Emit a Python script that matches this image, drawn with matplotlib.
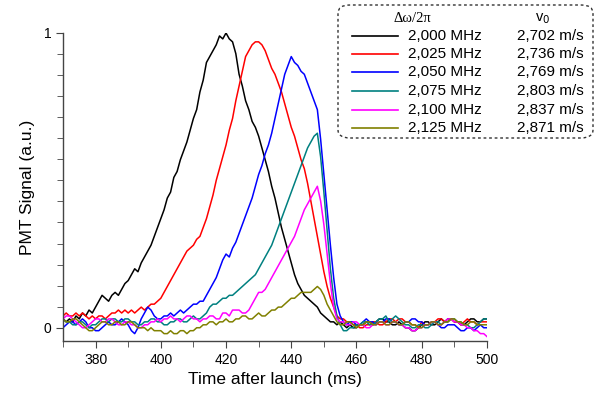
"""
PMT信号 vs 发射后时间 (不同失谐频率)
"""

import numpy as np
from matplotlib import pyplot as plt
from matplotlib.patches import FancyBboxPatch
from matplotlib.lines import Line2D

plt.rcParams["font.family"] = ["Liberation Sans", "DejaVu Sans"]

# 时间轴 (ms)，每1ms一个点
time_ms = np.arange(370, 501, 1)

freq_labels = ["2,000 MHz", "2,025 MHz", "2,050 MHz", "2,075 MHz", "2,100 MHz", "2,125 MHz"]
speed_labels = ["2,702 m/s", "2,736 m/s", "2,769 m/s", "2,803 m/s", "2,837 m/s", "2,871 m/s"]
colors = ["black", "#ff0000", "#0000ff", "#008080", "#ff00ff", "#808000"]

# 每行10个点: 370-379, 380-389, ... , 490-499, 最后一个是500
sig_2000 = [0.03, 0.02, 0.03, 0.02, 0.04, 0.03, 0.05, 0.04, 0.06, 0.05,
            0.07, 0.09, 0.11, 0.10, 0.09, 0.11, 0.12, 0.11, 0.13, 0.15,
            0.16, 0.18, 0.20, 0.19, 0.22, 0.24, 0.26, 0.28, 0.31, 0.34,
            0.37, 0.40, 0.44, 0.46, 0.51, 0.53, 0.57, 0.60, 0.63, 0.67,
            0.71, 0.74, 0.80, 0.84, 0.90, 0.92, 0.94, 0.96, 0.99, 0.98,
            1.00, 0.98, 0.97, 0.93, 0.86, 0.82, 0.77, 0.74, 0.70, 0.68,
            0.65, 0.61, 0.57, 0.53, 0.48, 0.44, 0.39, 0.34, 0.30, 0.26,
            0.22, 0.18, 0.15, 0.13, 0.11, 0.10, 0.09, 0.08, 0.07, 0.05,
            0.04, 0.03, 0.02, 0.02, 0.01, 0.02, 0.01, 0.00, 0.01, 0.00,
            0.00, 0.01, 0.01, 0.02, 0.02, 0.01, 0.02, 0.03, 0.03, 0.02,
            0.02, 0.01, 0.01, 0.02, 0.01, 0.00, 0.00, -0.01, -0.01, 0.00,
            0.01, 0.02, 0.02, 0.01, 0.01, 0.02, 0.03, 0.02, 0.03, 0.03,
            0.02, 0.02, 0.01, 0.01, 0.02, 0.03, 0.03, 0.02, 0.02, 0.03,
            0.03]
sig_2025 = [0.04, 0.05, 0.04, 0.04, 0.05, 0.04, 0.05, 0.04, 0.03, 0.04,
            0.03, 0.04, 0.04, 0.03, 0.04, 0.05, 0.05, 0.06, 0.05, 0.06,
            0.05, 0.06, 0.05, 0.06, 0.07, 0.06, 0.07, 0.08, 0.08, 0.09,
            0.10, 0.12, 0.14, 0.16, 0.18, 0.20, 0.22, 0.24, 0.26, 0.27,
            0.28, 0.30, 0.31, 0.34, 0.37, 0.41, 0.45, 0.50, 0.54, 0.58,
            0.62, 0.67, 0.71, 0.77, 0.82, 0.87, 0.92, 0.94, 0.96, 0.97,
            0.97, 0.96, 0.94, 0.91, 0.88, 0.86, 0.83, 0.80, 0.76, 0.72,
            0.68, 0.65, 0.61, 0.57, 0.54, 0.49, 0.43, 0.37, 0.31, 0.25,
            0.19, 0.14, 0.10, 0.07, 0.04, 0.03, 0.03, 0.02, 0.02, 0.01,
            0.01, 0.00, 0.00, 0.01, 0.01, 0.02, 0.02, 0.01, 0.01, 0.02,
            0.03, 0.03, 0.02, 0.03, 0.03, 0.02, 0.02, 0.01, 0.01, 0.00,
            0.02, 0.01, 0.01, 0.02, 0.02, 0.03, 0.03, 0.02, 0.02, 0.03,
            0.02, 0.02, 0.01, 0.02, 0.03, 0.02, 0.02, 0.01, 0.02, 0.02,
            0.02]
sig_2050 = [0.00, 0.01, 0.02, 0.02, 0.01, 0.02, 0.03, 0.02, 0.00, 0.00,
            -0.01, -0.01, 0.00, 0.01, 0.02, 0.01, 0.01, 0.02, 0.03, 0.02,
            0.01, -0.01, -0.02, 0.00, 0.03, 0.05, 0.07, 0.06, 0.04, 0.03,
            0.03, 0.04, 0.04, 0.05, 0.04, 0.05, 0.06, 0.05, 0.06, 0.07,
            0.08, 0.08, 0.09, 0.09, 0.11, 0.13, 0.15, 0.17, 0.20, 0.23,
            0.25, 0.24, 0.27, 0.29, 0.32, 0.35, 0.38, 0.41, 0.44, 0.48,
            0.52, 0.55, 0.59, 0.62, 0.66, 0.71, 0.76, 0.81, 0.86, 0.89,
            0.92, 0.90, 0.89, 0.87, 0.86, 0.83, 0.80, 0.77, 0.74, 0.64,
            0.52, 0.40, 0.28, 0.17, 0.08, 0.04, 0.02, 0.01, 0.02, 0.02,
            0.01, 0.01, 0.02, 0.03, 0.02, 0.02, 0.01, 0.02, 0.02, 0.03,
            0.03, 0.02, 0.02, 0.01, 0.01, 0.02, 0.02, 0.03, 0.03, 0.02,
            0.02, 0.01, 0.01, 0.02, 0.02, 0.01, 0.00, 0.00, 0.01, 0.01,
            0.01, 0.00, -0.01, -0.01, 0.00, 0.00, -0.01, 0.00, 0.01, 0.00,
            0.00]
sig_2075 = [0.03, 0.02, 0.02, 0.01, 0.01, 0.02, 0.02, 0.01, 0.00, 0.01,
            0.01, 0.02, 0.03, 0.03, 0.02, 0.03, 0.03, 0.02, 0.02, 0.03,
            0.03, 0.02, 0.02, 0.01, 0.01, 0.02, 0.02, 0.03, 0.03, 0.02,
            0.02, 0.01, 0.01, 0.02, 0.02, 0.03, 0.03, 0.02, 0.02, 0.03,
            0.04, 0.03, 0.03, 0.04, 0.05, 0.07, 0.08, 0.08, 0.09, 0.10,
            0.10, 0.11, 0.11, 0.12, 0.13, 0.14, 0.15, 0.16, 0.17, 0.18,
            0.20, 0.22, 0.24, 0.26, 0.28, 0.31, 0.34, 0.37, 0.40, 0.43,
            0.46, 0.49, 0.52, 0.55, 0.58, 0.61, 0.63, 0.65, 0.66, 0.58,
            0.46, 0.33, 0.20, 0.10, 0.04, 0.01, -0.01, -0.01, 0.00, 0.00,
            0.01, 0.01, 0.02, 0.02, 0.01, 0.01, 0.02, 0.03, 0.03, 0.04,
            0.02, 0.03, 0.04, 0.03, 0.02, 0.01, 0.01, 0.00, 0.00, 0.01,
            0.01, 0.00, 0.00, 0.01, 0.02, 0.02, 0.01, 0.02, 0.02, 0.03,
            0.03, 0.02, 0.02, 0.01, 0.01, 0.00, 0.00, 0.01, 0.02, 0.03,
            0.03]
sig_2100 = [0.03, 0.04, 0.04, 0.03, 0.02, 0.01, 0.00, 0.00, 0.01, 0.02,
            0.03, 0.03, 0.02, 0.02, 0.03, 0.03, 0.02, 0.01, 0.01, 0.02,
            0.02, 0.01, 0.01, 0.00, 0.00, 0.01, 0.01, 0.02, 0.02, 0.03,
            0.02, 0.03, 0.03, 0.04, 0.03, 0.03, 0.02, 0.03, 0.04, 0.04,
            0.03, 0.03, 0.02, 0.03, 0.03, 0.04, 0.04, 0.03, 0.03, 0.05,
            0.05, 0.04, 0.06, 0.06, 0.06, 0.05, 0.05, 0.06, 0.08, 0.10,
            0.12, 0.12, 0.13, 0.15, 0.17, 0.19, 0.21, 0.23, 0.25, 0.27,
            0.29, 0.31, 0.34, 0.37, 0.40, 0.42, 0.44, 0.46, 0.48, 0.43,
            0.35, 0.25, 0.15, 0.07, 0.03, 0.02, 0.02, 0.01, 0.01, 0.02,
            0.02, 0.01, 0.01, 0.00, 0.00, 0.01, 0.01, 0.02, 0.02, 0.01,
            0.01, 0.02, 0.02, 0.01, 0.01, 0.00, 0.00, -0.01, -0.01, 0.00,
            0.00, 0.01, 0.01, 0.02, 0.02, 0.01, 0.01, 0.02, 0.03, 0.03,
            0.02, 0.02, 0.01, 0.01, 0.00, 0.00, -0.01, -0.01, -0.02, -0.02,
            -0.03]
sig_2125 = [0.03, 0.02, 0.02, 0.03, 0.03, 0.02, 0.01, 0.00, -0.01, -0.01,
            0.00, 0.01, 0.02, 0.02, 0.01, 0.01, 0.02, 0.02, 0.01, 0.01,
            0.02, 0.02, 0.01, 0.00, 0.00, 0.00, -0.01, 0.00, -0.01, -0.01,
            -0.01, -0.02, -0.02, -0.01, -0.02, -0.02, -0.01, -0.01, -0.02, -0.01,
            -0.01, 0.00, 0.00, 0.01, 0.01, 0.02, 0.02, 0.01, 0.02, 0.02,
            0.03, 0.02, 0.02, 0.03, 0.03, 0.04, 0.04, 0.03, 0.03, 0.04,
            0.05, 0.04, 0.04, 0.05, 0.06, 0.06, 0.07, 0.07, 0.08, 0.09,
            0.10, 0.10, 0.11, 0.12, 0.12, 0.12, 0.12, 0.13, 0.14, 0.13,
            0.11, 0.08, 0.06, 0.04, 0.02, 0.01, 0.01, 0.02, 0.02, 0.01,
            0.00, 0.01, 0.01, 0.02, 0.02, 0.01, 0.01, 0.02, 0.02, 0.01,
            0.01, 0.02, 0.02, 0.01, 0.01, 0.02, 0.02, 0.01, 0.01, 0.00,
            0.00, 0.01, 0.01, 0.02, 0.02, 0.01, 0.01, 0.02, 0.02, 0.03,
            0.03, 0.02, 0.02, 0.01, 0.01, 0.02, 0.02, 0.01, 0.01, 0.01,
            0.01]

signals = [sig_2000, sig_2025, sig_2050, sig_2075, sig_2100, sig_2125]


def plot_pmt():
    fig = plt.figure(figsize=(6.11, 4.0), dpi=100)
    ax = fig.add_axes([0.103, 0.1475, 0.694, 0.77])

    for sig, c in zip(signals, colors):
        ax.plot(time_ms, sig, c=c, linewidth=1.1)

    ax.set_xlim(370, 500)
    ax.set_ylim(-0.045, 1.0)

    # 坐标轴样式：只保留左、下边框
    for side in ["top", "right"]:
        ax.spines[side].set_visible(False)
    for side in ["left", "bottom"]:
        ax.spines[side].set_color("#444444")
        ax.spines[side].set_linewidth(1.0)

    ax.set_xticks(np.arange(380, 501, 20))
    ax.set_xticks(np.arange(370, 501, 10), minor=True)
    ax.set_yticks([0, 1])
    ax.set_yticklabels(["0", "1"])
    ax.set_yticks(np.arange(1, 14) / 14, minor=True)
    ax.tick_params(which="both", direction="out", color="#444444", labelsize=10)
    ax.tick_params(which="major", length=5)
    ax.tick_params(which="minor", length=4)

    ax.set_xlabel("Time after launch (ms)", fontsize=12.5, labelpad=4)
    ax.set_ylabel("PMT Signal (a.u.)", fontsize=12.5, labelpad=6)

    # 自定义图例(虚线圆角框)
    def fx(px):
        return px / 611

    def fy(py):
        return 1 - py / 400

    box = FancyBboxPatch((fx(338), fy(138)), fx(593) - fx(338), fy(5) - fy(138),
                         boxstyle="round,pad=0,rounding_size=0.02",
                         transform=fig.transFigure, fill=False,
                         linestyle=(0, (2, 2)), linewidth=1.0, edgecolor="#333333")
    fig.add_artist(box)

    fig.text(fx(412), fy(19), "Δω/2π", fontsize=10.5, ha="center", va="center",
             family=["Liberation Serif", "DejaVu Serif"])
    fig.text(fx(543), fy(19), "v$_0$", fontsize=10.5, ha="center", va="center")

    row_y = [36, 54, 72, 91, 110, 128]
    for y, c, fl, sl in zip(row_y, colors, freq_labels, speed_labels):
        fig.add_artist(Line2D([fx(352), fx(398)], [fy(y), fy(y)], color=c,
                              linewidth=1.2, transform=fig.transFigure))
        fig.text(fx(408), fy(y), fl, fontsize=11, ha="left", va="center")
        fig.text(fx(584), fy(y), sl, fontsize=11, ha="right", va="center")

    fig.savefig("out.png", dpi=100)


if __name__ == "__main__":
    plot_pmt()
